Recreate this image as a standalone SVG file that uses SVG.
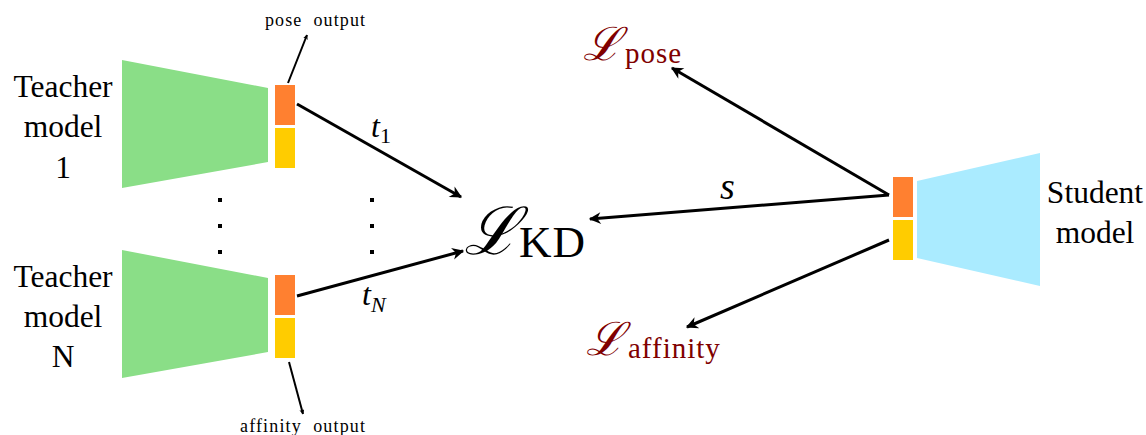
<svg xmlns="http://www.w3.org/2000/svg" width="1146" height="435" viewBox="0 0 1146 435">
<defs>
<marker id="ah" viewBox="0 0 10 10" refX="9" refY="5" markerWidth="5" markerHeight="5" orient="auto" markerUnits="userSpaceOnUse">
<path d="M0,0 L10,5 L0,10 L3,5 z" fill="#000"/>
</marker>
<marker id="ahL" viewBox="0 0 10 10" refX="9" refY="5" markerWidth="14" markerHeight="12" orient="auto" markerUnits="userSpaceOnUse">
<path d="M0,0 L10,5 L0,10 L3,5 z" fill="#000"/>
</marker>
<style>
.lbl{font-family:"Liberation Serif",serif;font-size:31.5px;fill:#000;text-anchor:middle}
.small{font-family:"Liberation Serif",serif;font-size:18px;fill:#000}
.scr{font-family:"DejaVu Serif",serif;font-style:italic;fill:#000}
.rm{font-family:"Liberation Serif",serif;font-style:normal;fill:#000}
.it{font-family:"Liberation Serif",serif;font-style:italic;fill:#000}
.red{fill:#800000}
.trap{fill:#8ade87}
.stud{fill:#aaebff}
.or{fill:#ff8030}
.ye{fill:#ffcc00}
.ln{stroke:#000;stroke-width:3;fill:none}
.thin{stroke:#000;stroke-width:2;fill:none}
.dot{fill:#000}
</style>
</defs>
<g id="teacher1">
<polygon class="trap" points="122,60 268,88 268,162 122,188"/>
<rect class="or" x="275" y="85" width="20" height="40"/>
<rect class="ye" x="275" y="128" width="20" height="40"/>
<text class="lbl" x="63" y="97">Teacher</text>
<text class="lbl" x="63" y="137">model</text>
<text class="lbl" x="63" y="178">1</text>
</g>
<g id="teacherN">
<polygon class="trap" points="122,250 268,278 268,352 122,378"/>
<rect class="or" x="275" y="275" width="20" height="40"/>
<rect class="ye" x="275" y="318" width="20" height="40"/>
<text class="lbl" x="63" y="287">Teacher</text>
<text class="lbl" x="63" y="327">model</text>
<text class="lbl" x="63" y="367">N</text>
</g>
<g id="student">
<rect class="or" x="893" y="177" width="20" height="40"/>
<rect class="ye" x="893" y="220" width="20" height="40"/>
<polygon class="stud" points="917,181 1040,153 1040,286 917,258"/>
<text class="lbl" x="1095" y="203">Student</text>
<text class="lbl" x="1095" y="243">model</text>
</g>
<g id="dots">
<rect class="dot" x="218" y="198" width="4" height="4"/>
<rect class="dot" x="218" y="224" width="4" height="4"/>
<rect class="dot" x="218" y="250" width="4" height="4"/>
<rect class="dot" x="370" y="198" width="4" height="4"/>
<rect class="dot" x="370" y="224" width="4" height="4"/>
<rect class="dot" x="370" y="250" width="4" height="4"/>
</g>
<g id="outputs">
<text class="small" x="265" y="26" xml:space="preserve" textLength="100" lengthAdjust="spacing">pose  output</text>
<text class="small" x="240" y="432" xml:space="preserve" textLength="125" lengthAdjust="spacing">affinity  output</text>
</g>
<g id="loss-kd">
<text class="scr" x="464" y="254" font-size="66">ℒ</text>
<text class="rm" x="519" y="257" font-size="45" letter-spacing="1">KD</text>
</g>
<g id="loss-pose">
<text class="scr red" x="583" y="60" font-size="46">ℒ</text>
<text class="rm red" x="625" y="63" font-size="29" letter-spacing="1">pose</text>
</g>
<g id="loss-affinity">
<text class="scr red" x="586" y="355" font-size="46">ℒ</text>
<text class="rm red" x="628" y="358" font-size="29" letter-spacing="1">affinity</text>
</g>
<g id="connectors">
<line class="thin" x1="288" y1="83" x2="307" y2="35" marker-end="url(#ah)"/>
<line class="thin" x1="289" y1="362" x2="303" y2="414" marker-end="url(#ah)"/>
<line class="ln" x1="297" y1="104" x2="461" y2="197" marker-end="url(#ahL)"/>
<line class="ln" x1="297" y1="296" x2="463" y2="251" marker-end="url(#ahL)"/>
<line class="ln" x1="889" y1="195" x2="590" y2="219" marker-end="url(#ahL)"/>
<line class="ln" x1="889" y1="195" x2="672" y2="68" marker-end="url(#ahL)"/>
<line class="ln" x1="889" y1="240" x2="687" y2="327" marker-end="url(#ahL)"/>
<text class="it" x="371" y="137" font-size="32">t<tspan class="rm" font-size="22" dy="6">1</tspan></text>
<text class="it" x="362" y="305" font-size="32">t<tspan font-size="22" dy="7">N</tspan></text>
<text class="it" x="720" y="199" font-size="38">s</text>
</g>
</svg>
